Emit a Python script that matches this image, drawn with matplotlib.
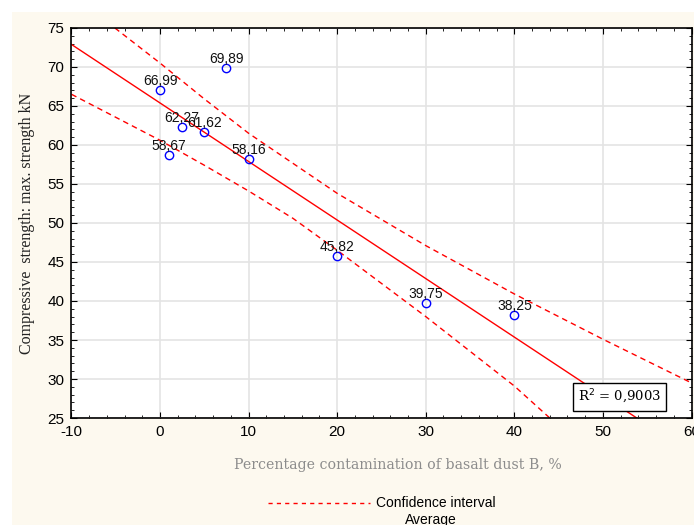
import numpy as np
import matplotlib.pyplot as plt
from matplotlib.patches import Rectangle
from matplotlib.ticker import MultipleLocator

plt.rcParams['axes.unicode_minus'] = False

# basalt dust contamination, % and compressive strength, kN
dust = np.array([0, 1, 2.5, 5, 7.5, 10, 20, 30, 40])
strength = np.array([66.99, 58.67, 62.27, 61.62, 69.89, 58.16, 45.82, 39.75, 38.25])
labels = ["66,99", "58,67", "62,27", "61,62", "69,89", "58,16", "45,82", "39,75", "38,25"]
r2_text = "R$^2$ = 0,9003"

# confidence band
upper_x = [-5.1, 0, 5, 10, 20, 30, 40, 50, 60]
upper_y = [75.0, 70.5, 65.9, 61.5, 53.8, 47.1, 40.9, 35.1, 29.5]
lower_x = [-10, 0, 5, 10, 15, 20, 30, 40, 44]
lower_y = [66.5, 60.6, 57.4, 54.1, 50.6, 46.5, 38.0, 29.1, 25.0]

# linear fit
b, a = np.polyfit(dust, strength, 1)
xs = np.array([-10, 60])

fig = plt.figure(figsize=(6.94, 5.25), dpi=100, facecolor="white")
fig.patches.append(Rectangle((12 / 694, 0), 1, 1 - 12 / 525, transform=fig.transFigure,
                             facecolor="#fdf9ef", edgecolor="none", zorder=-10))

ax = fig.add_axes([0.103, 0.2038, 0.8934, 0.7429])
ax.set_facecolor("white")

ax.plot(xs, a + b * xs, color="red", lw=1)
ax.plot(upper_x, upper_y, color="red", lw=1, ls=(0, (4, 3)))
ax.plot(lower_x, lower_y, color="red", lw=1, ls=(0, (4, 3)))
ax.plot(dust, strength, "o", mfc="none", mec="blue", ms=6, mew=1)
for x, y, t in zip(dust, strength, labels):
    ax.annotate(t, (x, y), xytext=(0, 1.5), textcoords="offset points", ha="center",
                va="bottom", fontsize=10, family="Liberation Sans", color="#111111")

ax.set_xlim(-10, 60)
ax.set_ylim(25, 75)
ax.xaxis.set_major_locator(MultipleLocator(10))
ax.xaxis.set_minor_locator(MultipleLocator(2))
ax.yaxis.set_major_locator(MultipleLocator(5))
ax.yaxis.set_minor_locator(MultipleLocator(1))
ax.grid(True, which="major", color="#e4e4e4", lw=1.2)
ax.set_axisbelow(True)
ax.tick_params(which="both", direction="in", top=True, right=True)
ax.tick_params(which="major", length=4, labelsize=11, pad=5)
ax.tick_params(which="minor", length=2)
for lab in ax.get_xticklabels() + ax.get_yticklabels():
    lab.set_family("Liberation Sans")
for sp in ax.spines.values():
    sp.set_linewidth(1.2)

ax.set_xlabel("Percentage contamination of basalt dust B, %", family="DejaVu Serif",
              fontsize=10.2, color="#8c8c8c")
ax.xaxis.set_label_coords(0.527, -0.102)
ax.set_ylabel("Compressive  strength: max. strength kN", family="Liberation Serif",
              fontsize=11.5, color="#222222", labelpad=9)

ax.text(51.9, 27.7, r2_text, family="DejaVu Serif", fontsize=9.5, ha="center", va="center",
        bbox=dict(boxstyle="square,pad=0.35", fc="white", ec="black", lw=1))

# legend drawn below the axes, partly cut off like the source
fig.lines.append(plt.Line2D([268 / 694, 370 / 694], [1 - 503 / 525] * 2, transform=fig.transFigure,
                            color="red", lw=1, ls=(0, (3, 3))))
fig.text(376 / 694, 1 - 503 / 525, "Confidence interval", family="Liberation Sans", fontsize=10,
         va="center")
fig.text(405 / 694, 1 - 520 / 525, "Average", family="Liberation Sans", fontsize=10, va="center")

fig.savefig("out.png", dpi=100, facecolor=fig.get_facecolor())
